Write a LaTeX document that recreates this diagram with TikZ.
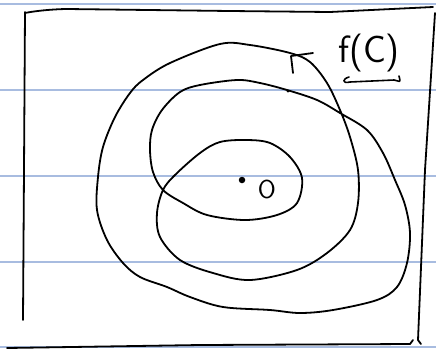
\documentclass[tikz,border=0pt]{standalone}
\begin{document}
\begin{tikzpicture}[x=1pt,y=-1pt,
  ink/.style={line width=1.8pt,line cap=round,line join=round,black},
  ruled/.style={line width=1.1pt,color={rgb,255:red,168;green,188;blue,224}},
  lbl/.style={inner sep=0pt,anchor=center}]
\useasboundingbox (0,0) rectangle (436,349);
\fill[white] (0,0) rectangle (436,349);
% notebook lines
\foreach \yy in {4,90,176,262,347} \draw[ruled] (0,\yy) -- (436,\yy);
% frame
\draw[ink] (25,13) .. controls (40,10) and (60,9) .. (67,9) -- (230,11) -- (330,12) -- (433,7);
\draw[ink] (25,12) -- (24,170) -- (23,320);
\draw[ink] (435,13) -- (425,170) -- (418,340) -- (421,344);
\draw[ink] (7,348) -- (200,345) -- (410,344) -- (413,340);
% the closed curve winding around O
\draw[ink] plot[smooth cycle,tension=0.55] coordinates {
 (220,44) (250,45) (290,53) (310,62) (327,83) (340,110) (350,137) (358,170)
 (358,203) (350,230) (327,253) (297,270) (250,280) (213,273) (180,260)
 (160,237) (157,213) (163,190) (175,175) (200,153) (220,142) (247,140)
 (270,143) (290,157) (302,178) (297,203) (277,215) (245,220) (207,215)
 (183,203) (163,190) (153,172) (150,150) (152,130) (162,110) (180,92)
 (200,85) (237,80) (260,83) (287,90) (317,100) (340,113) (367,130)
 (383,153) (395,180) (405,205) (410,233) (407,263) (397,287) (377,300)
 (333,310) (300,313) (270,310) (223,307) (190,297) (167,287) (140,277)
 (123,263) (107,240) (97,210) (98,177) (103,147) (115,117) (130,93)
 (143,80) (170,63)};
% small mark on the curve
\fill (288,91) circle (1.6pt);
% arrow tick pointing to the curve
\draw[ink] (293,73) -- (291,56) -- (313,53);
% centre point and label
\node[circle,fill,inner sep=0pt,minimum size=6.5pt] (c) at (242,180) {};
\node[lbl,font=\sffamily\fontsize{26}{26}\selectfont] (o) at (267,189) {O};
% f(C) label with underline
\node[lbl,font=\sffamily\fontsize{38}{38}\selectfont] (fc) at (369,53) {f(C)};
\draw[ink,line width=1.6pt] (349,77) .. controls (342,79) and (342,84) .. (350,82)
  -- (394,80) .. controls (400,81) and (401,84) .. (399,76);
\end{tikzpicture}
\end{document}
